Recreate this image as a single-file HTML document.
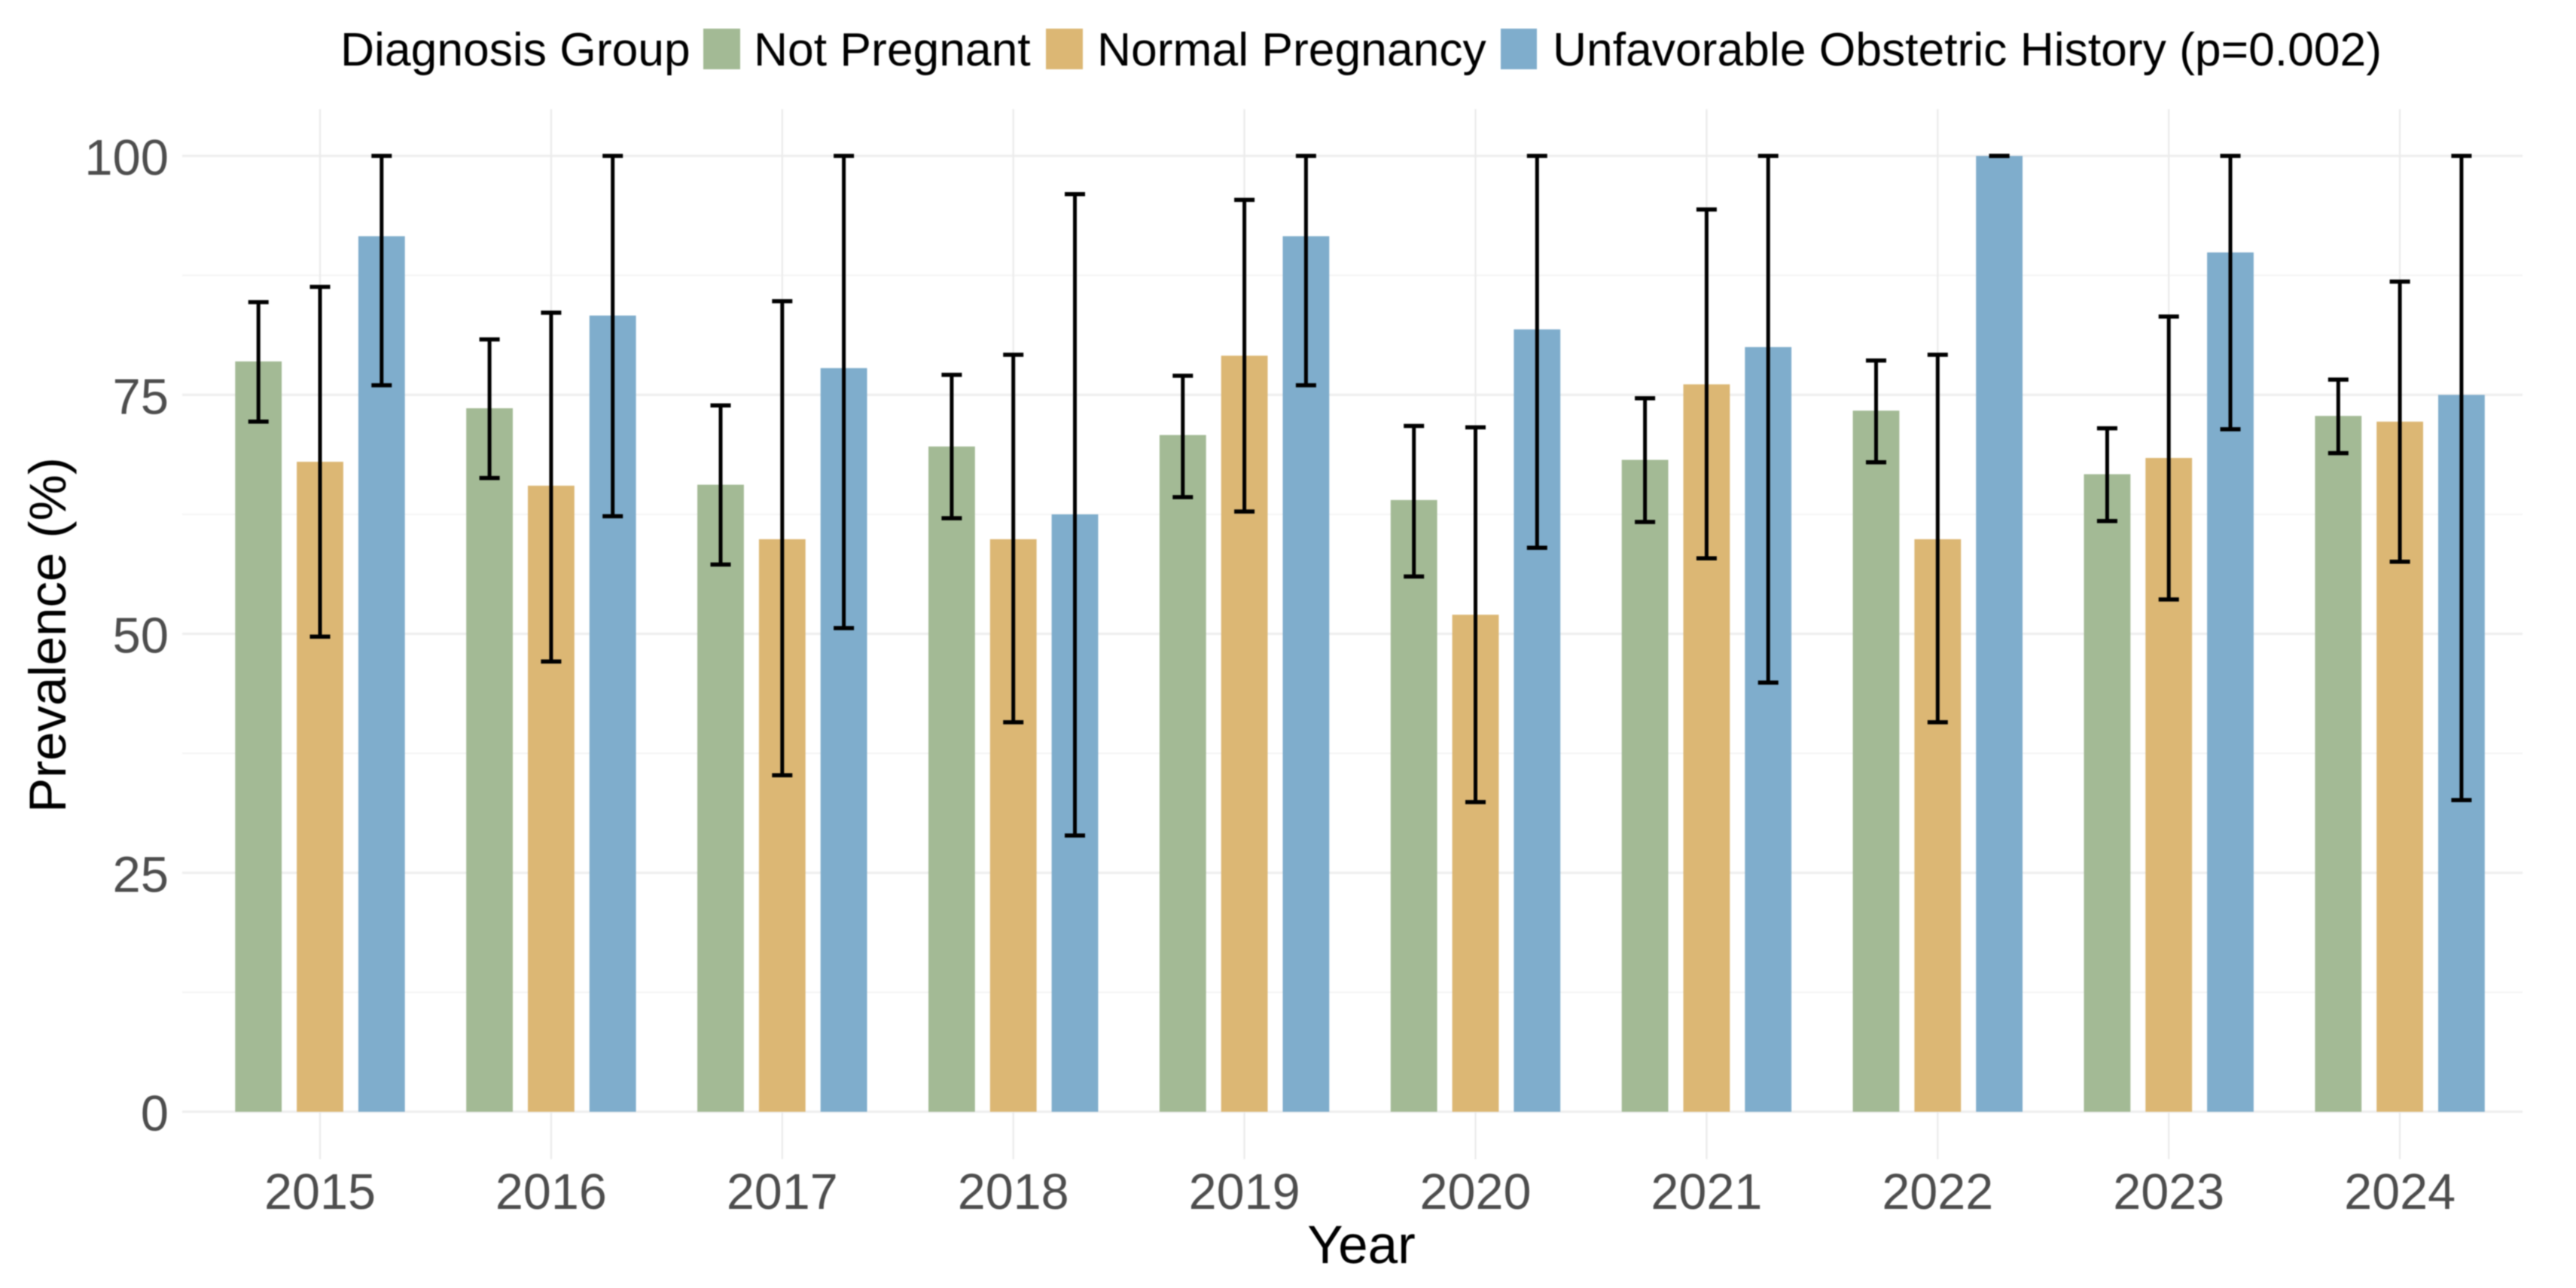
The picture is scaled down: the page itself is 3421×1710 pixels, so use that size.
<!DOCTYPE html>
<html lang="en">
<head>
<meta charset="utf-8">
<title>Prevalence by Year and Diagnosis Group</title>
<style>
html,body{margin:0;padding:0;background:#fff;width:3421px;height:1710px;overflow:hidden}
svg{display:block;font-family:"Liberation Sans",Arial,sans-serif;filter:blur(0.8px)}
</style>
</head>
<body>
<svg id="chart" xmlns="http://www.w3.org/2000/svg" width="3421" height="1710" viewBox="0 0 3421 1710">
  <rect x="0" y="0" width="3421" height="1710" fill="#ffffff"/>
  <g id="grid"></g>
  <g id="bars"></g>
  <g id="errors"></g>
  <g id="yticks"></g>
  <g id="xticks"></g>
  <text transform="translate(87,843) rotate(-90)" text-anchor="middle" font-size="69" fill="#000">Prevalence (%)</text>
  <text x="1808" y="1677" text-anchor="middle" font-size="71" fill="#000">Year</text>
  <g>
    <text x="452" y="87" font-size="62.4" fill="#000">Diagnosis Group</text>
    <rect x="934" y="38" width="49" height="54" fill="#a3ba95"/>
    <text x="1001" y="87" font-size="62.4" fill="#000">Not Pregnant</text>
    <rect x="1389" y="38" width="49" height="54" fill="#dcb774"/>
    <text x="1457" y="87" font-size="62.4" fill="#000">Normal Pregnancy</text>
    <rect x="1993" y="38" width="48" height="54" fill="#7fadcc"/>
    <text x="2062" y="87" font-size="62.4" fill="#000">Unfavorable Obstetric History (p=0.002)</text>
  </g>
</svg>
<script>
const years = [2015, 2016, 2017, 2018, 2019, 2020, 2021, 2022, 2023, 2024];
const yMajorTicks = [0, 25, 50, 75, 100];
const yMinorTicks = [12.5, 37.5, 62.5, 87.5];

const notPregnantValues = [78.5, 73.6, 65.6, 69.6, 70.8, 64.0, 68.2, 73.35, 66.7, 72.8];
const notPregnantLower = [72.2, 66.3, 57.25, 62.1, 64.3, 56.0, 61.7, 67.95, 61.8, 68.9];
const notPregnantUpper = [84.7, 80.8, 73.9, 77.1, 77.0, 71.75, 74.65, 78.6, 71.5, 76.6];

const normalPregnancyValues = [68.0, 65.5, 59.9, 59.9, 79.1, 52.0, 76.1, 59.9, 68.4, 72.2];
const normalPregnancyLower = [49.7, 47.1, 35.2, 40.75, 62.8, 32.4, 57.9, 40.75, 53.6, 57.55];
const normalPregnancyUpper = [86.3, 83.6, 84.8, 79.2, 95.4, 71.6, 94.4, 79.2, 83.2, 86.85];

const unfavorableValues = [91.6, 83.3, 77.8, 62.5, 91.6, 81.85, 80.0, 100, 89.9, 75.0];
const unfavorableLower = [76.0, 62.3, 50.6, 28.9, 76.0, 59.0, 44.9, 100, 71.4, 32.6];
const unfavorableUpper = [100, 100, 100, 96.0, 100, 100, 100, 100, 100, 100];

const SVG_NS = 'http://www.w3.org/2000/svg';
const PANEL = {left: 242, right: 3350, top: 145, bottom: 1539};
const X0 = 425, X_STEP = 306.9, DODGE = 81.8, BAR_W = 61.8, CAP_W = 27;
const Y0 = 1476, Y_UNIT = 12.69;

function xScale(index) { return X0 + index * X_STEP; }
function yScale(value) { return Y0 - value * Y_UNIT; }

function make(tag, parent, props) {
  const el = document.createElementNS(SVG_NS, tag);
  for (const k in props) el.setAttribute(k, props[k]);
  document.getElementById(parent).appendChild(el);
  return el;
}

yMinorTicks.forEach(function (t) {
  const line = make('line', 'grid', {x1: PANEL.left, x2: PANEL.right, y1: yScale(t), y2: yScale(t), stroke: '#f4f4f4', 'stroke-width': 2});
  
  
});
yMajorTicks.forEach(function (t) {
  const line = make('line', 'grid', {x1: PANEL.left, x2: PANEL.right, y1: yScale(t), y2: yScale(t), stroke: '#efefef', 'stroke-width': 3.2});
  
  
  const label = make('text', 'yticks', {x: 224, y: yScale(t) + 25, 'text-anchor': 'end', 'font-size': 67, fill: '#4d4d4d'});
  label.textContent = t;
  
  
});
years.forEach(function (yr, i) {
  const line = make('line', 'grid', {x1: xScale(i), x2: xScale(i), y1: PANEL.top, y2: PANEL.bottom, stroke: '#ececec', 'stroke-width': 2.4});
  
  
  const label = make('text', 'xticks', {x: xScale(i), y: 1605, 'text-anchor': 'middle', 'font-size': 66.5, fill: '#4d4d4d'});
  label.textContent = yr;
  
  
});

function drawSeries(key, color, slot, values, lower, upper) {
  values.forEach(function (v, i) {
    const cx = xScale(i) + slot * DODGE;
    const bar = make('rect', 'bars', {x: cx - BAR_W / 2, y: yScale(v), width: BAR_W, height: yScale(0) - yScale(v), fill: color});
    
    
    const stem = make('line', 'errors', {x1: cx, x2: cx, y1: yScale(upper[i]), y2: yScale(lower[i]), stroke: '#000', 'stroke-width': 5});
    
    
    const capTop = make('line', 'errors', {x1: cx - CAP_W / 2, x2: cx + CAP_W / 2, y1: yScale(upper[i]), y2: yScale(upper[i]), stroke: '#000', 'stroke-width': 5.5});
    
    
    const capBottom = make('line', 'errors', {x1: cx - CAP_W / 2, x2: cx + CAP_W / 2, y1: yScale(lower[i]), y2: yScale(lower[i]), stroke: '#000', 'stroke-width': 5.5});
    
    
  });
}

drawSeries('not-pregnant', '#a3ba95', -1, notPregnantValues, notPregnantLower, notPregnantUpper);
drawSeries('normal-pregnancy', '#dcb774', 0, normalPregnancyValues, normalPregnancyLower, normalPregnancyUpper);
drawSeries('unfavorable-history', '#7fadcc', 1, unfavorableValues, unfavorableLower, unfavorableUpper);
</script>
</body>
</html>
